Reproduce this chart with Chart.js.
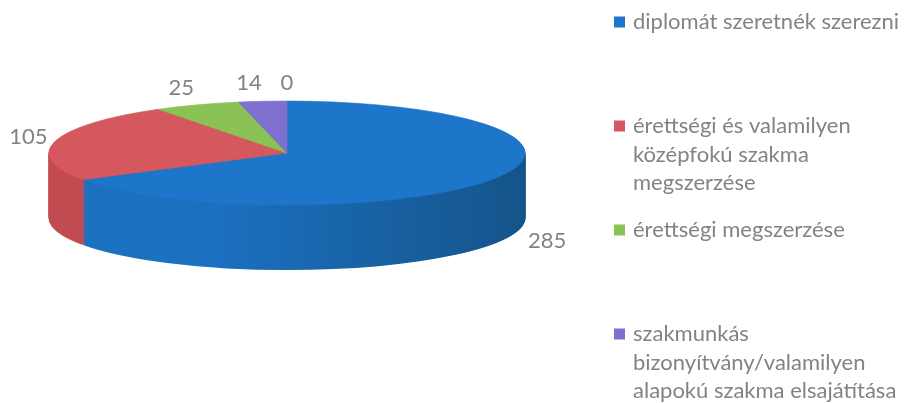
<!DOCTYPE html>
<html><head><meta charset="utf-8">
<script src="https://cdn.jsdelivr.net/npm/chart.js@4/dist/chart.umd.min.js"></script>
<style>html,body{margin:0;padding:0;background:#fff;}#wrap{width:907px;height:403px;position:relative;}</style>
</head><body><div id="wrap"><canvas id="c" width="907" height="403"></canvas></div>
<script>
// ---- data ----
const categories = [
  ["diplomát szeretnék szerezni"],
  ["érettségi és valamilyen", "középfokú szakma", "megszerzése"],
  ["érettségi megszerzése"],
  ["szakmunkás", "bizonyítvány/valamilyen", "alapokú szakma elsajátítása"],
  [""]
];
const values = [285, 105, 25, 14, 0];

// ---- styles ----
const topColors  = ["#1d76c9", "#d4585e", "#8ac255", "#7f70cf", "#4f81bd"];
const sideLight  = ["#1b70c0", "#c24b51", "#76a845", "#6a5cb3", "#3f6ea3"];
const sideDark   = ["#15548a", "#93353a", "#577f31", "#4f4488", "#2f5580"];
const textGrey = "#838383";

const pie3d = {
  id: 'pie3d',
  beforeDatasetsDraw(chart, args, o) {
    const ctx = chart.ctx, arcs = chart.getDatasetMeta(0).data;
    const {x: cx, y: cy, outerRadius: r} = arcs[0].getProps(['x','y','outerRadius'], true);
    const k = o.tilt, depth = o.depth;
    for (let d = depth; d >= 1; d--) {
      ctx.save();
      ctx.translate(cx, cy + d); ctx.scale(1, k); ctx.translate(-cx, -cy);
      arcs.forEach((a, i) => {
        const p = a.getProps(['startAngle','endAngle'], true);
        if (p.endAngle - p.startAngle <= 0) return;
        const g = ctx.createLinearGradient(cx - r, 0, cx + r, 0);
        g.addColorStop(0, sideLight[i]); g.addColorStop(0.35, sideLight[i]); g.addColorStop(1, sideDark[i]);
        ctx.fillStyle = g;
        ctx.beginPath(); ctx.moveTo(cx, cy);
        ctx.arc(cx, cy, r + 0.5, p.startAngle, p.endAngle);
        ctx.closePath(); ctx.fill();
      });
      ctx.restore();
    }
    ctx.save();
    ctx.translate(cx, cy); ctx.scale(1, k); ctx.translate(-cx, -cy);
  },
  afterDatasetsDraw(chart) { chart.ctx.restore(); },
  afterDraw(chart, args, o) {
    const ctx = chart.ctx, arcs = chart.getDatasetMeta(0).data;
    const k = o.tilt, depth = o.depth;
    ctx.save();
    ctx.font = o.labelFont;
    ctx.fillStyle = textGrey;
    ctx.textBaseline = 'middle';
    arcs.forEach((a, i) => {
      const p = a.getProps(['x','y','startAngle','endAngle','outerRadius'], true);
      const m = (p.startAngle + p.endAngle) / 2;
      const c = Math.cos(m), s = Math.sin(m);
      let x = p.x + p.outerRadius * c, y = p.y + p.outerRadius * k * s;
      if (s > 0) { y += depth; x += o.padXLower; y += o.padYLower; }
      else { x += o.padX * c; y += o.padY * s; }
      ctx.textAlign = c < -0.05 ? 'right' : (c > 0.05 ? 'left' : 'center');
      ctx.fillText(String(values[i]), x, y);
    });
    // legend
    const L = o.legend;
    ctx.font = L.font;
    ctx.textAlign = 'left';
    categories.forEach((lines, i) => {
      if (!lines[0]) return;
      const y0 = L.top + i * L.step;
      ctx.fillStyle = topColors[i];
      ctx.fillRect(L.x, y0 - L.box / 2, L.box, L.box);
      ctx.fillStyle = textGrey;
      lines.forEach((t, j) => ctx.fillText(t, L.x + L.box + L.gap, y0 + j * L.lineH));
    });
    ctx.restore();
  }
};

new Chart(document.getElementById('c'), {
  type: 'pie',
  data: {
    labels: categories,
    datasets: [{
      data: values,
      backgroundColor: topColors,
      borderColor: topColors,
      borderWidth: 1,
      radius: 238,
      clip: false
    }]
  },
  options: {
    responsive: false,
    animation: false,
    events: [],
    layout: { padding: { left: 0, top: 0, right: 333, bottom: 97 } },
    plugins: {
      legend: { display: false },
      tooltip: { enabled: false },
      pie3d: {
        tilt: 52 / 238, depth: 65, padX: 8, padY: 18, padXLower: 34, padYLower: -3,
        labelFont: '22px Lato',
        legend: { x: 614, top: 22, step: 104, lineH: 28.5, box: 11, gap: 8, font: '22px Lato' }
      }
    }
  },
  plugins: [pie3d]
});
</script></body></html>
